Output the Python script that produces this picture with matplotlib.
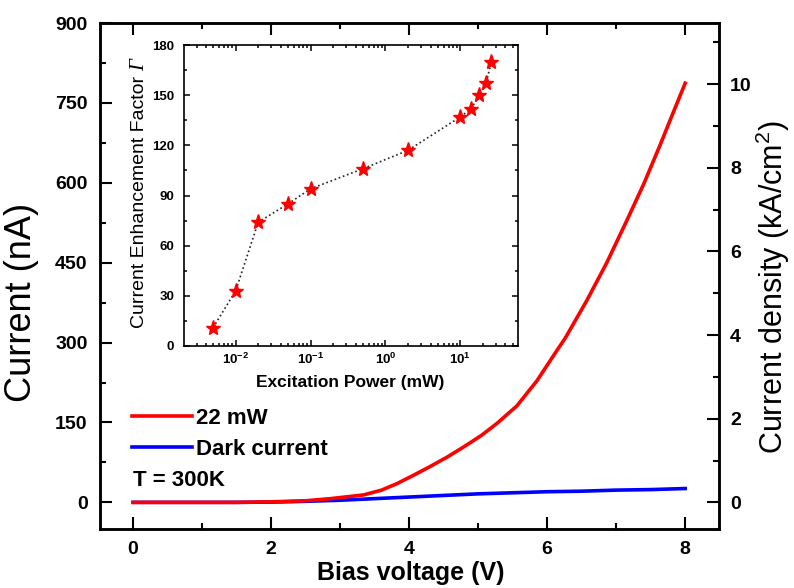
import matplotlib
matplotlib.use("Agg")
import matplotlib.pyplot as plt
from matplotlib.ticker import MultipleLocator, LogLocator, NullFormatter

plt.rcParams['font.family'] = ['Liberation Sans', 'DejaVu Sans']
plt.rcParams['font.weight'] = 'bold'
plt.rcParams['mathtext.fontset'] = 'custom'
plt.rcParams['mathtext.rm'] = 'Liberation Sans:bold'
plt.rcParams['mathtext.bf'] = 'Liberation Sans:bold'

# photocurrent under 22 mW excitation
v_22mw = [0.0, 0.5, 1.0, 1.5, 2.0, 2.5, 2.86, 3.34, 3.6, 3.82, 4.05, 4.30,
          4.55, 4.79, 5.05, 5.27, 5.56, 5.85, 6.14, 6.26, 6.57, 6.86, 7.15,
          7.40, 7.64, 7.83, 8.0]
i_22mw = [0, 0, 0, 0, 1, 3, 7, 14, 23, 35, 50, 67,
          85, 104, 126, 148, 181, 228, 285, 308, 378, 449, 528,
          598, 672, 733, 787]

# dark current
v_dark = [0, 0.5, 1, 1.5, 2, 2.5, 3, 3.5, 4, 4.5, 5, 5.5, 6, 6.5, 7, 7.5, 8]
i_dark = [0, 0, 0, 0, 0.5, 2, 4, 7, 10, 13, 16, 18, 20, 21, 23, 24, 26]

# inset: enhancement factor vs excitation power
power_mw = [0.005, 0.01, 0.02, 0.05, 0.1, 0.5, 2, 10, 14, 18, 22, 26]
gamma = [11, 33, 74, 85, 94, 106, 117, 137, 142, 150, 157, 170]

nA_to_kAcm2 = 10 / 785.0
W, H = 794, 588

fig = plt.figure(figsize=(W / 100, H / 100), dpi=100)
ax = fig.add_axes([100 / W, 1 - 529 / H, 619 / W, 506 / H])

ax.plot(v_dark, i_dark, color='#0000ff', lw=2.6, label='Dark current')
ax.plot(v_22mw, i_22mw, color='#ff0000', lw=2.6, label='22 mW')

ax.set_xlim(-0.48, 8.49)
ax.set_ylim(-50, 900)
ax.xaxis.set_major_locator(MultipleLocator(2))
ax.xaxis.set_minor_locator(MultipleLocator(1))
ax.yaxis.set_major_locator(MultipleLocator(150))
ax.yaxis.set_minor_locator(MultipleLocator(75))
ax.tick_params(which='both', direction='in', top=True, right=False,
               width=1.5, labelsize=14)
ax.tick_params(which='major', length=8.5, pad=9)
ax.tick_params(which='minor', length=4.5)
for s in ax.spines.values():
    s.set_linewidth(1.8)

ax2 = ax.twinx()
ax2.set_ylim(-50 * nA_to_kAcm2, 900 * nA_to_kAcm2)
ax2.yaxis.set_major_locator(MultipleLocator(2))
ax2.yaxis.set_minor_locator(MultipleLocator(1))
ax2.tick_params(which='both', direction='in', width=1.5, labelsize=14)
ax2.tick_params(which='major', length=8.5, pad=8)
ax2.tick_params(which='minor', length=4.5)
for s in ax2.spines.values():
    s.set_linewidth(1.8)

handles, labels = ax.get_legend_handles_labels()
ax.legend(handles[::-1], labels[::-1], loc='upper left',
          bbox_to_anchor=((132 - 100) / 619, (529 - 408) / 506),
          frameon=False, fontsize=16, handlelength=2.7, handletextpad=0.2,
          labelspacing=0.45, borderpad=0, borderaxespad=0)
ax.text((133 - 100) / 619, (529 - 480) / 506, 'T = 300K', transform=ax.transAxes,
        fontsize=16, va='center', ha='left')

fig.text(411 / W, 1 - 580 / H, 'Bias voltage (V)', fontsize=18,
         ha='center', va='baseline')
fig.text(22 / W, 1 - 302 / H, 'Current (nA)', fontsize=26, fontweight='normal',
         rotation=90, ha='center', va='center')
fig.text(773 / W, 1 - 287 / H, r'Current density (kA/cm$^\mathregular{2}$)',
         fontsize=22, fontweight='normal', rotation=90, ha='center', va='center')

# inset
ins = fig.add_axes([184 / W, 1 - 346 / H, 334 / W, 301 / H])
ins.plot(power_mw, gamma, ls=':', color='#222222', lw=1.2, marker='*',
         ms=11, mfc='#ff0000', mec='#ff0000')
ins.set_xscale('log')
ins.set_xlim(10 ** -2.69, 10 ** 1.77)
ins.set_ylim(0, 180)
ins.yaxis.set_major_locator(MultipleLocator(30))
ins.yaxis.set_minor_locator(MultipleLocator(15))
ins.xaxis.set_major_locator(LogLocator(base=10, numticks=10))
ins.xaxis.set_minor_locator(LogLocator(base=10, subs=range(2, 10), numticks=10))
ins.xaxis.set_minor_formatter(NullFormatter())
ins.tick_params(which='both', direction='in', top=True, right=True,
                width=1.1, labelsize=9.5)
ins.tick_params(which='major', length=4.5)
ins.tick_params(which='minor', length=2.5)
ins.tick_params(axis='y', pad=7)
ins.tick_params(axis='x', pad=4)
for s in ins.spines.values():
    s.set_linewidth(1.2)

fig.text(350 / W, 1 - 387 / H, 'Excitation Power (mW)', fontsize=12.5,
         ha='center', va='baseline')
ylab = fig.text(144 / W, 1 - 202 / H, 'Current Enhancement Factor',
                fontsize=14, fontweight='normal', rotation=90,
                rotation_mode='anchor', ha='center', va='baseline')
fig.canvas.draw()
bb = ylab.get_window_extent()
fig.text(144 / W, (bb.y1 + 5) / H, 'Γ', fontsize=15, fontweight='normal',
         family=['Liberation Serif', 'DejaVu Serif'], style='italic',
         rotation=90, rotation_mode='anchor', ha='left', va='baseline')

fig.savefig('out.png', dpi=100, facecolor='white')
